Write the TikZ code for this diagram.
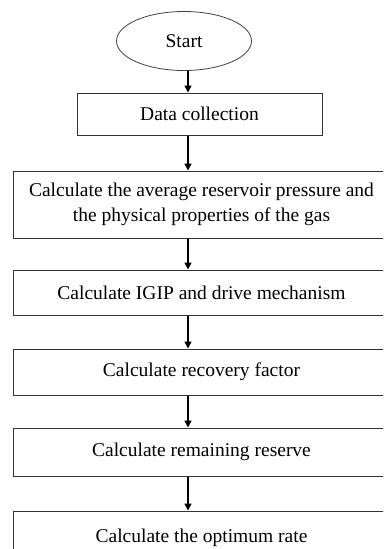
\documentclass[tikz,border=0pt]{standalone}
\usepackage{fontspec}
\setmainfont{Liberation Serif}
\usetikzlibrary{shapes.geometric,arrows.meta}
\begin{document}
\begin{tikzpicture}[x=1pt,y=-1pt,
  font=\fontsize{19.5}{25.5}\selectfont,
  box/.style={draw=black!80,line width=1pt,rectangle,align=center,inner sep=0pt},
  widebox/.style={box,minimum width=377pt},
  flow/.style={line width=1.6pt,-{Triangle[length=7pt,width=7pt]}}]
\useasboundingbox (0,0) rectangle (383,549);
\clip (0,0) rectangle (383,549);
\coordinate (spine) at (188,0);
\node[draw=black!75,line width=0.8pt,ellipse,minimum width=135pt,minimum height=59pt,inner sep=0pt] (start) at (184,41) {Start};
\node[box,minimum width=245pt,minimum height=42pt] (data) at (199.5,114) {Data collection};
\node[widebox,minimum height=67pt] (avg) at (201.5,204.5) {Calculate the average reservoir pressure and\\the physical properties of the gas};
\node[widebox,minimum height=45pt] (igip) at (201.5,292.5) {Calculate IGIP and drive mechanism};
\node[widebox,minimum height=46pt] (rf) at (201.5,372) {Calculate recovery factor};
\node[widebox,minimum height=48pt] (rem) at (201.5,452) {Calculate remaining reserve};
\node[widebox,minimum height=54pt] (opt) at (201.5,538) {Calculate the optimum rate};

\draw[flow] (start.south -| spine) -- (data.north -| spine);
\draw[flow] (data.south -| spine) -- (avg.north -| spine);
\draw[flow] (avg.south -| spine) -- (igip.north -| spine);
\draw[flow] (igip.south -| spine) -- (rf.north -| spine);
\draw[flow] (rf.south -| spine) -- (rem.north -| spine);
\draw[flow] (rem.south -| spine) -- (opt.north -| spine);
\end{tikzpicture}
\end{document}
